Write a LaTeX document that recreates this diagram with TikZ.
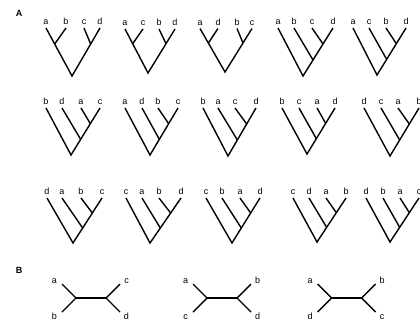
\documentclass[tikz,border=0pt]{standalone}
\usepackage{fontspec}
\setmainfont{Liberation Sans}
\usetikzlibrary{calc}
\tikzset{
  edge/.style={line width=1.4pt},
  lab/.style={anchor=base, inner sep=0pt, font=\fontsize{9}{10}\selectfont},
  panel/.style={inner sep=0pt, font=\bfseries\fontsize{9}{10}\selectfont}
}
\newcommand\leafset[3]{%
  \foreach \xx/\lab [count=\i] in {#3}{%
    \coordinate (#1l\i) at (\xx,#2);
    \node[lab] (#1t\i) at ([yshift=3.5pt]#1l\i) {\lab};
  }}
\newcommand\btree[4]{%
  \leafset{#1}{#2}{#4}
  \coordinate (#1r) at (#3);
  \coordinate (#1m) at ($(#1l1)!1/3!(#1r)$);
  \coordinate (#1n) at ($(#1l4)!1/3!(#1r)$);
  \draw[edge] (#1l1) -- (#1r) -- (#1l4);
  \draw[edge] (#1l2) -- (#1m);
  \draw[edge] (#1l3) -- (#1n);}
\newcommand\ctree[4]{%
  \leafset{#1}{#2}{#4}
  \coordinate (#1r) at (#3);
  \coordinate (#1m) at ($(#1l4)!1/3!(#1r)$);
  \coordinate (#1n) at ($(#1l4)!2/3!(#1r)$);
  \draw[edge] (#1l1) -- (#1r) -- (#1l4);
  \draw[edge] (#1l3) -- (#1m);
  \draw[edge] (#1l2) -- (#1n);}
\newcommand\utree[6]{%
  \coordinate (#1p) at (#2-15,298);
  \coordinate (#1q) at (#2+15,298);
  \coordinate (#1a) at (#2-29,284);
  \coordinate (#1b) at (#2-29,312);
  \coordinate (#1c) at (#2+29,284);
  \coordinate (#1d) at (#2+29,312);
  \node[lab] (#1ta) at (#2-36.5,283.5) {#3};
  \node[lab] (#1tb) at (#2-36.5,319) {#4};
  \node[lab] (#1tc) at (#2+35.5,283.5) {#5};
  \node[lab] (#1td) at (#2+35.5,319) {#6};
  \draw[edge] (#1a) -- (#1p) -- (#1b);
  \draw[edge] (#1p) -- (#1q);
  \draw[edge] (#1c) -- (#1q) -- (#1d);}
\begin{document}
\begin{tikzpicture}[x=1pt,y=-1pt]
\useasboundingbox (0,0) rectangle (420,325);
\node[panel] (pA) at (19,13) {A};
\node[panel] (pB) at (19,270) {B};
% row 1
\btree{ra}{28}{72,76}{46/a,66/b,84/c,100/d}
\btree{rb}{29}{148,73}{125/a,143/c,159/b,175/d}
\btree{rc}{28.5}{225,72}{200/a,218/d,237/b,252/c}
\ctree{rd}{28}{303,76}{278/a,294/b,312/c,333/d}
\ctree{re}{28}{377,75}{353/a,369/c,386/b,406/d}
% row 2
\ctree{sa}{108}{71,155}{46/b,62/d,81/a,100/c}
\ctree{sb}{108}{150,155}{125/a,142/d,158/b,178/c}
\ctree{sc}{108}{228,156}{203/b,218/a,235/c,256/d}
\ctree{sd}{108}{307,154}{282/b,299/c,317/a,335/d}
\ctree{se}{108}{390,156}{364/d,381/c,398/a,419/b}
% row 3
\ctree{ta}{198}{73,243}{47/d,62/a,81/b,102/c}
\ctree{tb}{198}{150,243}{126/c,142/a,159/b,181/d}
\ctree{tc}{198}{232,243}{206/c,222/b,240/a,260/d}
\ctree{td}{198}{317,242}{293/c,309/d,326/a,346/b}
\ctree{te}{198}{390,242}{366/d,383/b,400/a,419/c}
% panel B
\utree{ua}{91}{a}{b}{c}{d}
\utree{ub}{222}{a}{c}{b}{d}
\utree{uc}{346.7}{a}{d}{b}{c}
\end{tikzpicture}
\end{document}
